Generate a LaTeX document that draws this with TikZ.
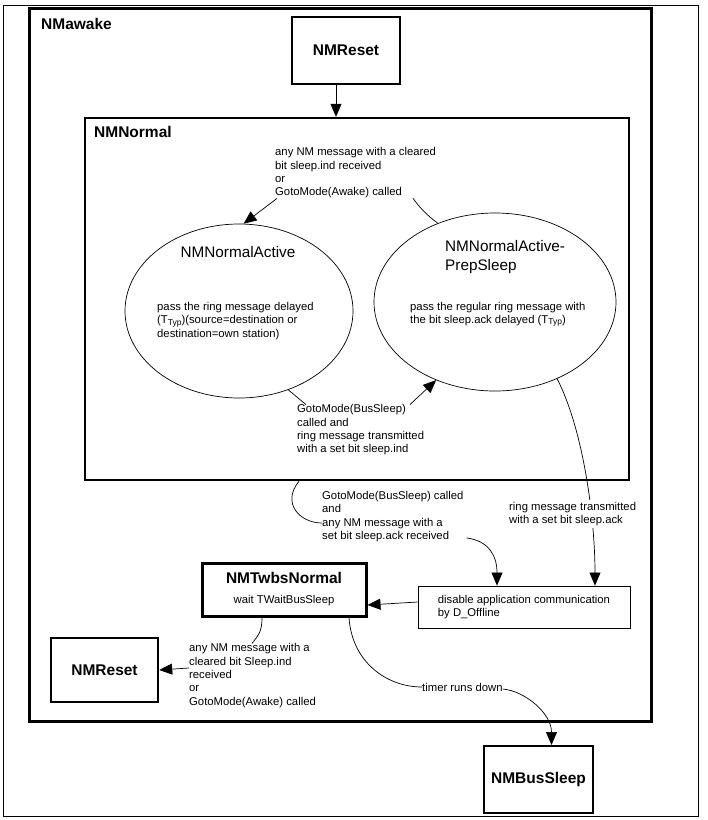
\documentclass[tikz,border=0pt]{standalone}
\usepackage{fontspec}
\setmainfont{Liberation Sans}
\usetikzlibrary{arrows.meta,shapes.geometric,positioning}
\newcommand{\smalltxt}{\fontsize{11.3}{13.3}\selectfont}
\newcommand{\bigtxt}{\fontsize{15.5}{18}\selectfont}
\newcommand{\ttyp}{T\raisebox{-0.2ex}{\fontsize{8.5}{9}\selectfont Typ}}

\begin{document}
\begin{tikzpicture}[x=1pt, y=-1pt]
  \tikzstyle{statebox}=[rectangle, draw, line width=2pt, inner sep=0pt, font=\bigtxt\bfseries]
  \tikzstyle{stateell}=[ellipse, draw, line width=0.7pt, inner sep=0pt]
  \tikzstyle{trans}=[align=left, inner sep=0pt, anchor=west, font=\smalltxt]
  \tikzstyle{arr}=[-{Triangle[length=13pt,width=11pt]}, line width=0.7pt]
  \tikzstyle{con}=[line width=0.7pt]

  \useasboundingbox (0,0) rectangle (708,820);
  \draw[line width=0.8pt] (3,5) rectangle (698,816);

  % outer state
  \node[draw, line width=3pt, minimum width=622, minimum height=713, inner sep=0pt] (awk) at (340,364.5) {};
  \node[anchor=west, font=\bigtxt\bfseries, inner sep=0pt] (awktitle) at (41,24) {NMawake};
  \node[statebox, minimum width=108, minimum height=67] (rstA) at (346,50.5) {NMReset};

  % NMNormal with its two states
  \node[draw, line width=2.5pt, minimum width=544, minimum height=362, inner sep=0pt] (nrm) at (357,299) {};
  \node[anchor=west, font=\bigtxt\bfseries, inner sep=0pt] (nrmtitle) at (94,132) {NMNormal};
  \node[stateell, minimum width=228, minimum height=174] (act) at (239,311) {};
  \node[font=\fontsize{15.3}{19}\selectfont] (acttitle) at (238,252) {NMNormalActive};
  \node[trans] (acttxt) at (157,321) {pass the ring message delayed\\(\ttyp)(source=destination or\\destination=own station)};
  \node[stateell, minimum width=242, minimum height=178] (pas) at (495,302) {};
  \node[trans, font=\fontsize{15.3}{19}\selectfont] (pastitle) at (445,257.5) {NMNormalActive-\\PrepSleep};
  \node[trans] (pastxt) at (410,314.5) {pass the regular ring message with\\the bit sleep.ack delayed (\ttyp)};
  \node[trans] (lblTop) at (275,173) {any NM message with a cleared\\bit sleep.ind received\\or\\GotoMode(Awake) called};
  \node[trans] (lblBus) at (297,430) {GotoMode(BusSleep)\\called and\\ring message transmitted\\with a set bit sleep.ind};

  % leaving NMNormal
  \node[trans] (lblAck) at (322,516.5) {GotoMode(BusSleep) called\\and\\any NM message with a\\set bit sleep.ack received};
  \node[draw, line width=0.8pt, minimum width=212, minimum height=42, align=left, font=\smalltxt] (dis) at (524,607) {disable application communication\\by D\_Offline};
  \node[statebox, line width=3pt, minimum width=164, minimum height=53, align=center] (twb) at (284,589.5) {NMTwbsNormal\\[2pt]{\smalltxt\mdseries wait TWaitBusSleep}};
  \node[statebox, line width=2.5pt, minimum width=107, minimum height=64] (rstB) at (104.5,670) {NMReset};
  \node[trans] (lblReset) at (189,675.5) {any NM message with a\\cleared bit Sleep.ind\\received\\or\\GotoMode(Awake) called};
  \node[trans] (lblTimer) at (422,687) {timer runs down};
  \node[statebox, minimum width=109, minimum height=67] (bus) at (538.5,779.5) {NMBusSleep};

  % transitions
  \draw[arr] ([xshift=-10pt]rstA.south) -- ([xshift=-10pt]rstA.south |- nrm.north);
  \draw[con] (pas.126) to[bend left=8] ([xshift=138pt]lblTop.south west);
  \draw[arr] ([xshift=2pt]lblTop.south west) -- (act.87);
  \draw[con] (act.-58) -- ([xshift=9pt]lblBus.north west);
  \draw[arr] ([xshift=113pt]lblBus.north west) -- (pas.-127);
  \draw[con] ([xshift=-58pt]nrm.south) .. controls +(-18,22) and +(-22,0) .. ([yshift=-6.5pt]lblAck.west);
  \draw[arr] ([xshift=3pt,yshift=4pt]lblAck.south east) .. controls +(22,3) and +(0,-30) .. ([xshift=-27pt]dis.north);
  \draw[arr] (pas.-51) .. controls +(27,53) and +(0,-65) .. ([xshift=71pt]dis.north);
  \node[trans, fill=white, inner ysep=2pt] (lblRing) at (509,514) {ring message transmitted\\with a set bit sleep.ack};
  \draw[arr] ([yshift=5pt]dis.west) -- ([yshift=-15.5pt]twb.east);
  \draw[con] ([xshift=-22pt]twb.south) .. controls +(0,15) and +(6,-8) .. ([xshift=63pt]lblReset.north west);
  \draw[arr] ([yshift=7.5pt]lblReset.west) -- (rstB.east);
  \draw[con] ([xshift=65pt]twb.south) .. controls +(3,45) and +(-35,0) .. (lblTimer.west);
  \draw[arr] ([yshift=-2pt]lblTimer.east) .. controls +(22,2) and +(0,-32) .. ([xshift=13pt]bus.north);
\end{tikzpicture}
\end{document}
